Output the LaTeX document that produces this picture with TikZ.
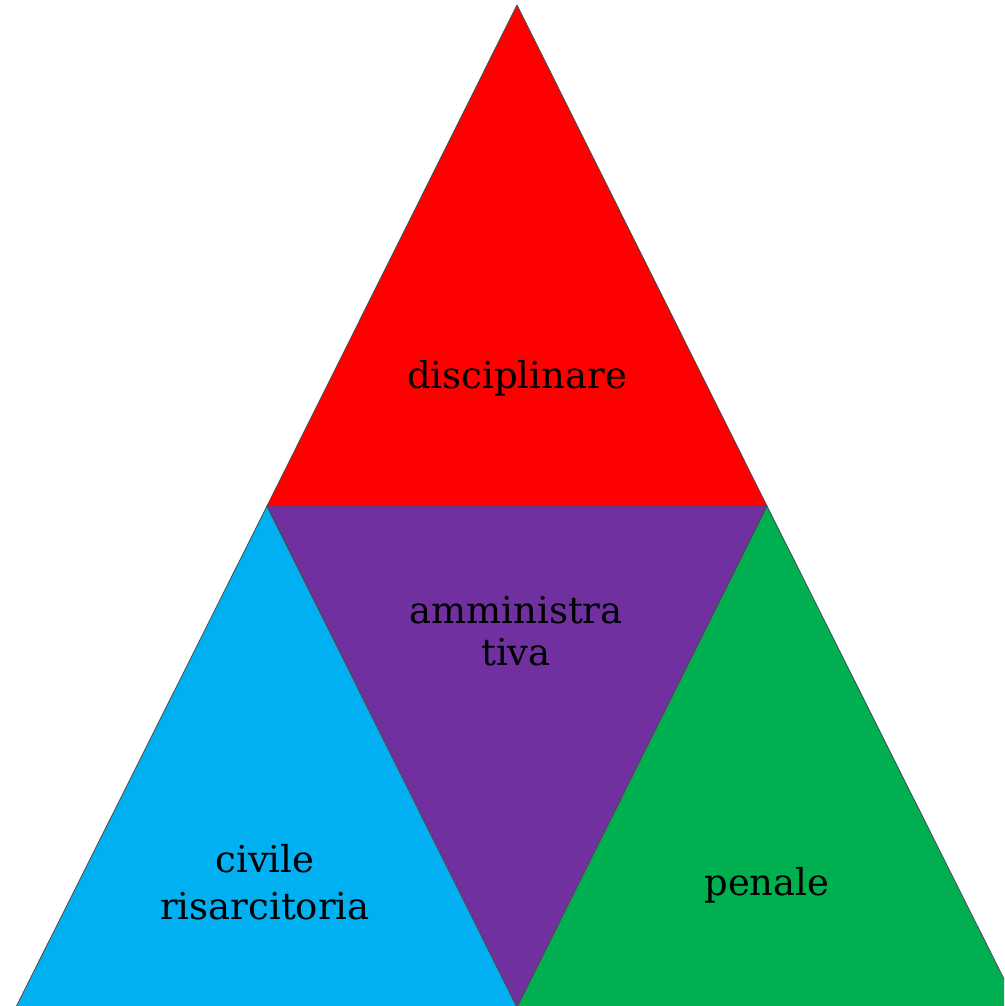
\documentclass[tikz,border=0pt]{standalone}
\usepackage{fontspec}
\setmainfont{DejaVu Serif}
\definecolor{cred}{HTML}{FF0000}
\definecolor{cpurple}{HTML}{7030A0}
\definecolor{ccyan}{HTML}{00B0F0}
\definecolor{cgreen}{HTML}{00B050}
\begin{document}
\begin{tikzpicture}[x=1pt,y=-1pt,
  tri/.style={draw=black!70,line width=0.8pt,line join=round},
  lbl/.style={anchor=base,inner sep=0pt,font=\fontsize{37}{42}\selectfont,text=black}]
\useasboundingbox (0,0) rectangle (1004,1006);
\clip (0,0) rectangle (1004,1006);
\coordinate (A) at (517,5);
\coordinate (L) at (267,506);
\coordinate (R) at (767,506);
\coordinate (BL) at (16,1007);
\coordinate (BM) at (517,1007);
\coordinate (BR) at (1018,1007);
\fill[white] (0,0) rectangle (1004,1006);
\draw[tri,fill=cred] (A) -- (L) -- (R) -- cycle;
\draw[tri,fill=ccyan] (L) -- (BL) -- (BM) -- cycle;
\draw[tri,fill=cgreen] (R) -- (BM) -- (BR) -- cycle;
\draw[tri,fill=cpurple] (L) -- (R) -- (BM) -- cycle;
\node[lbl] (t1) at (517,388) {disciplinare};
\node[lbl] (t2) at (516,623) {amministra};
\node[lbl] (t3) at (516,665) {tiva};
\node[lbl] (t4) at (265,872) {civile};
\node[lbl] (t5) at (265,919) {risarcitoria};
\node[lbl] (t6) at (767,895) {penale};
\end{tikzpicture}
\end{document}
